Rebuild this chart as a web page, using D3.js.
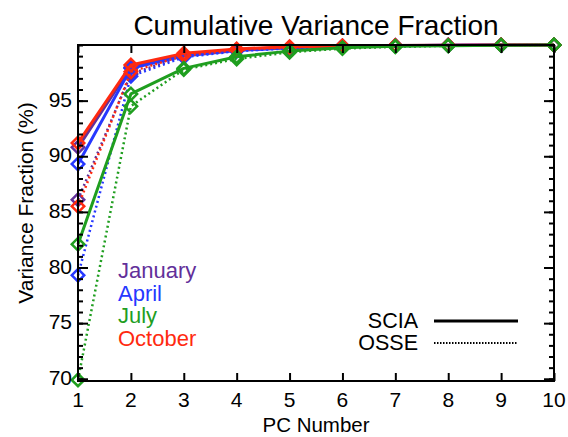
<!DOCTYPE html>
<html>
<head>
<meta charset="utf-8">
<script src="https://cdn.jsdelivr.net/npm/d3@7"></script>
<style>
body { margin: 0; background: #fff; }
text { font-family: "Liberation Sans", Arial, sans-serif; }
</style>
</head>
<body>
<svg id="chart" width="568" height="437"></svg>
<script>
// PC numbers on the x axis
var pcs = [1, 2, 3, 4, 5, 6, 7, 8, 9, 10]

// cumulative variance fraction (%)
var janScia = [90.8, 98.0, 99.1, 99.6, 99.8, 99.9, 99.95, 99.97, 99.99, 100]
var janOsse = [86.1, 97.4, 99.0, 99.5, 99.75, 99.88, 99.93, 99.96, 99.98, 100]
var aprScia = [89.3, 97.9, 99.0, 99.5, 99.75, 99.88, 99.94, 99.97, 99.99, 100]
var aprOsse = [79.3, 97.2, 98.9, 99.45, 99.7, 99.85, 99.92, 99.96, 99.98, 100]
var julScia = [82.1, 95.6, 97.9, 98.95, 99.45, 99.75, 99.88, 99.94, 99.98, 100]
var julOsse = [69.9, 94.5, 97.8, 98.75, 99.35, 99.68, 99.84, 99.93, 99.97, 100]
var octScia = [91.2, 98.2, 99.25, 99.65, 99.85, 99.92, 99.96, 99.98, 99.99, 100]
var octOsse = [85.5, 97.6, 99.05, 99.55, 99.78, 99.9, 99.94, 99.97, 99.99, 100]

var months = ['January', 'April', 'July', 'October']
var colors = {January: '#62309a', April: '#2638ff', July: '#1f9e1f', October: '#ff2a10'}
var yTicks = [70, 75, 80, 85, 90, 95]

var svg = d3.select('#chart')
var pl = 78, pr = 554, pt = 45, pb = 381

var x = d3.scaleLinear().domain([1, 10]).range([pl, pr])
var y = d3.scaleLinear().domain([69.8, 100]).range([pb, pt])

// series in drawing order (July last, it sits on top)
var series = [
	{m: 'January', v: janScia, dot: false}, {m: 'January', v: janOsse, dot: true},
	{m: 'April', v: aprScia, dot: false}, {m: 'April', v: aprOsse, dot: true},
	{m: 'October', v: octScia, dot: false}, {m: 'October', v: octOsse, dot: true},
	{m: 'July', v: julScia, dot: false}, {m: 'July', v: julOsse, dot: true}
]

var line = d3.line().x(function(d, i) { return x(pcs[i]) }).y(function(d) { return y(d) })
var diamond = d3.symbol().type(d3.symbolSquare).size(78)

series.forEach(function(s) {
	var c = colors[s.m]
	svg.append('path').attr('d', line(s.v)).attr('fill', 'none')
		.attr('stroke', c).attr('stroke-width', s.dot ? 2.5 : 3)
		.attr('stroke-dasharray', s.dot ? '2,3' : null)
		.attr('stroke-linejoin', 'round')
	svg.selectAll(null).data(s.v).enter().append('path')
		.attr('d', diamond)
		.attr('transform', function(d, i) { return 'translate(' + x(pcs[i]) + ',' + y(d) + ') rotate(45)' })
		.attr('fill', 'none').attr('stroke', c).attr('stroke-width', 2.5)
})

// axes: ticks pointing inward on all four sides
var yMinor = d3.range(70, 101, 1)
svg.append('g').attr('transform', 'translate(' + pl + ',0)')
	.call(d3.axisRight(y).tickValues(yMinor).tickSize(5).tickFormat(''))
svg.append('g').attr('transform', 'translate(' + pl + ',0)')
	.call(d3.axisRight(y).tickValues(yTicks).tickSize(10).tickFormat(''))
svg.append('g').attr('transform', 'translate(' + pr + ',0)')
	.call(d3.axisLeft(y).tickValues(yMinor).tickSize(5).tickFormat(''))
svg.append('g').attr('transform', 'translate(' + pr + ',0)')
	.call(d3.axisLeft(y).tickValues(yTicks).tickSize(10).tickFormat(''))
svg.append('g').attr('transform', 'translate(0,' + pb + ')')
	.call(d3.axisTop(x).tickValues(pcs).tickSize(8).tickFormat(''))
svg.append('g').attr('transform', 'translate(0,' + pt + ')')
	.call(d3.axisBottom(x).tickValues(pcs).tickSize(8).tickFormat(''))
svg.selectAll('.domain').remove()
svg.selectAll('.tick line').attr('stroke', '#000').attr('stroke-width', 2)

svg.append('rect').attr('x', pl).attr('y', pt).attr('width', pr - pl).attr('height', pb - pt)
	.attr('fill', 'none').attr('stroke', '#000').attr('stroke-width', 2)

// tick labels
svg.selectAll(null).data(pcs).enter().append('text')
	.attr('x', function(d) { return x(d) }).attr('y', 407)
	.attr('text-anchor', 'middle').attr('font-size', 21).text(function(d) { return d })
svg.selectAll(null).data(yTicks).enter().append('text')
	.attr('x', 72).attr('y', function(d) { return y(d) + 6 })
	.attr('text-anchor', 'end').attr('font-size', 21).text(function(d) { return d })

// titles
svg.append('text').attr('x', 316).attr('y', 35).attr('text-anchor', 'middle')
	.attr('font-size', 28).text('Cumulative Variance Fraction')
svg.append('text').attr('x', 316).attr('y', 432).attr('text-anchor', 'middle')
	.attr('font-size', 20.5).text('PC Number')
svg.append('text').attr('transform', 'translate(33,203) rotate(-90)')
	.attr('text-anchor', 'middle').attr('font-size', 21).text('Variance Fraction (%)')

// month legend
months.forEach(function(m, i) {
	svg.append('text').attr('x', 118).attr('y', 278 + i * 22.5)
		.attr('font-size', 22).attr('fill', colors[m]).text(m)
})

// line style legend
var styles = [{name: 'SCIA', dot: false}, {name: 'OSSE', dot: true}]
styles.forEach(function(s, i) {
	var ly = 321 + i * 22
	svg.append('text').attr('x', 418).attr('y', ly + 7).attr('text-anchor', 'end')
		.attr('font-size', 21.5).text(s.name)
	svg.append('line').attr('x1', 434).attr('x2', 518).attr('y1', ly).attr('y2', ly)
		.attr('stroke', '#000').attr('stroke-width', s.dot ? 2 : 3)
		.attr('stroke-dasharray', s.dot ? '1.5,1.5' : null)
})
</script>
</body>
</html>
